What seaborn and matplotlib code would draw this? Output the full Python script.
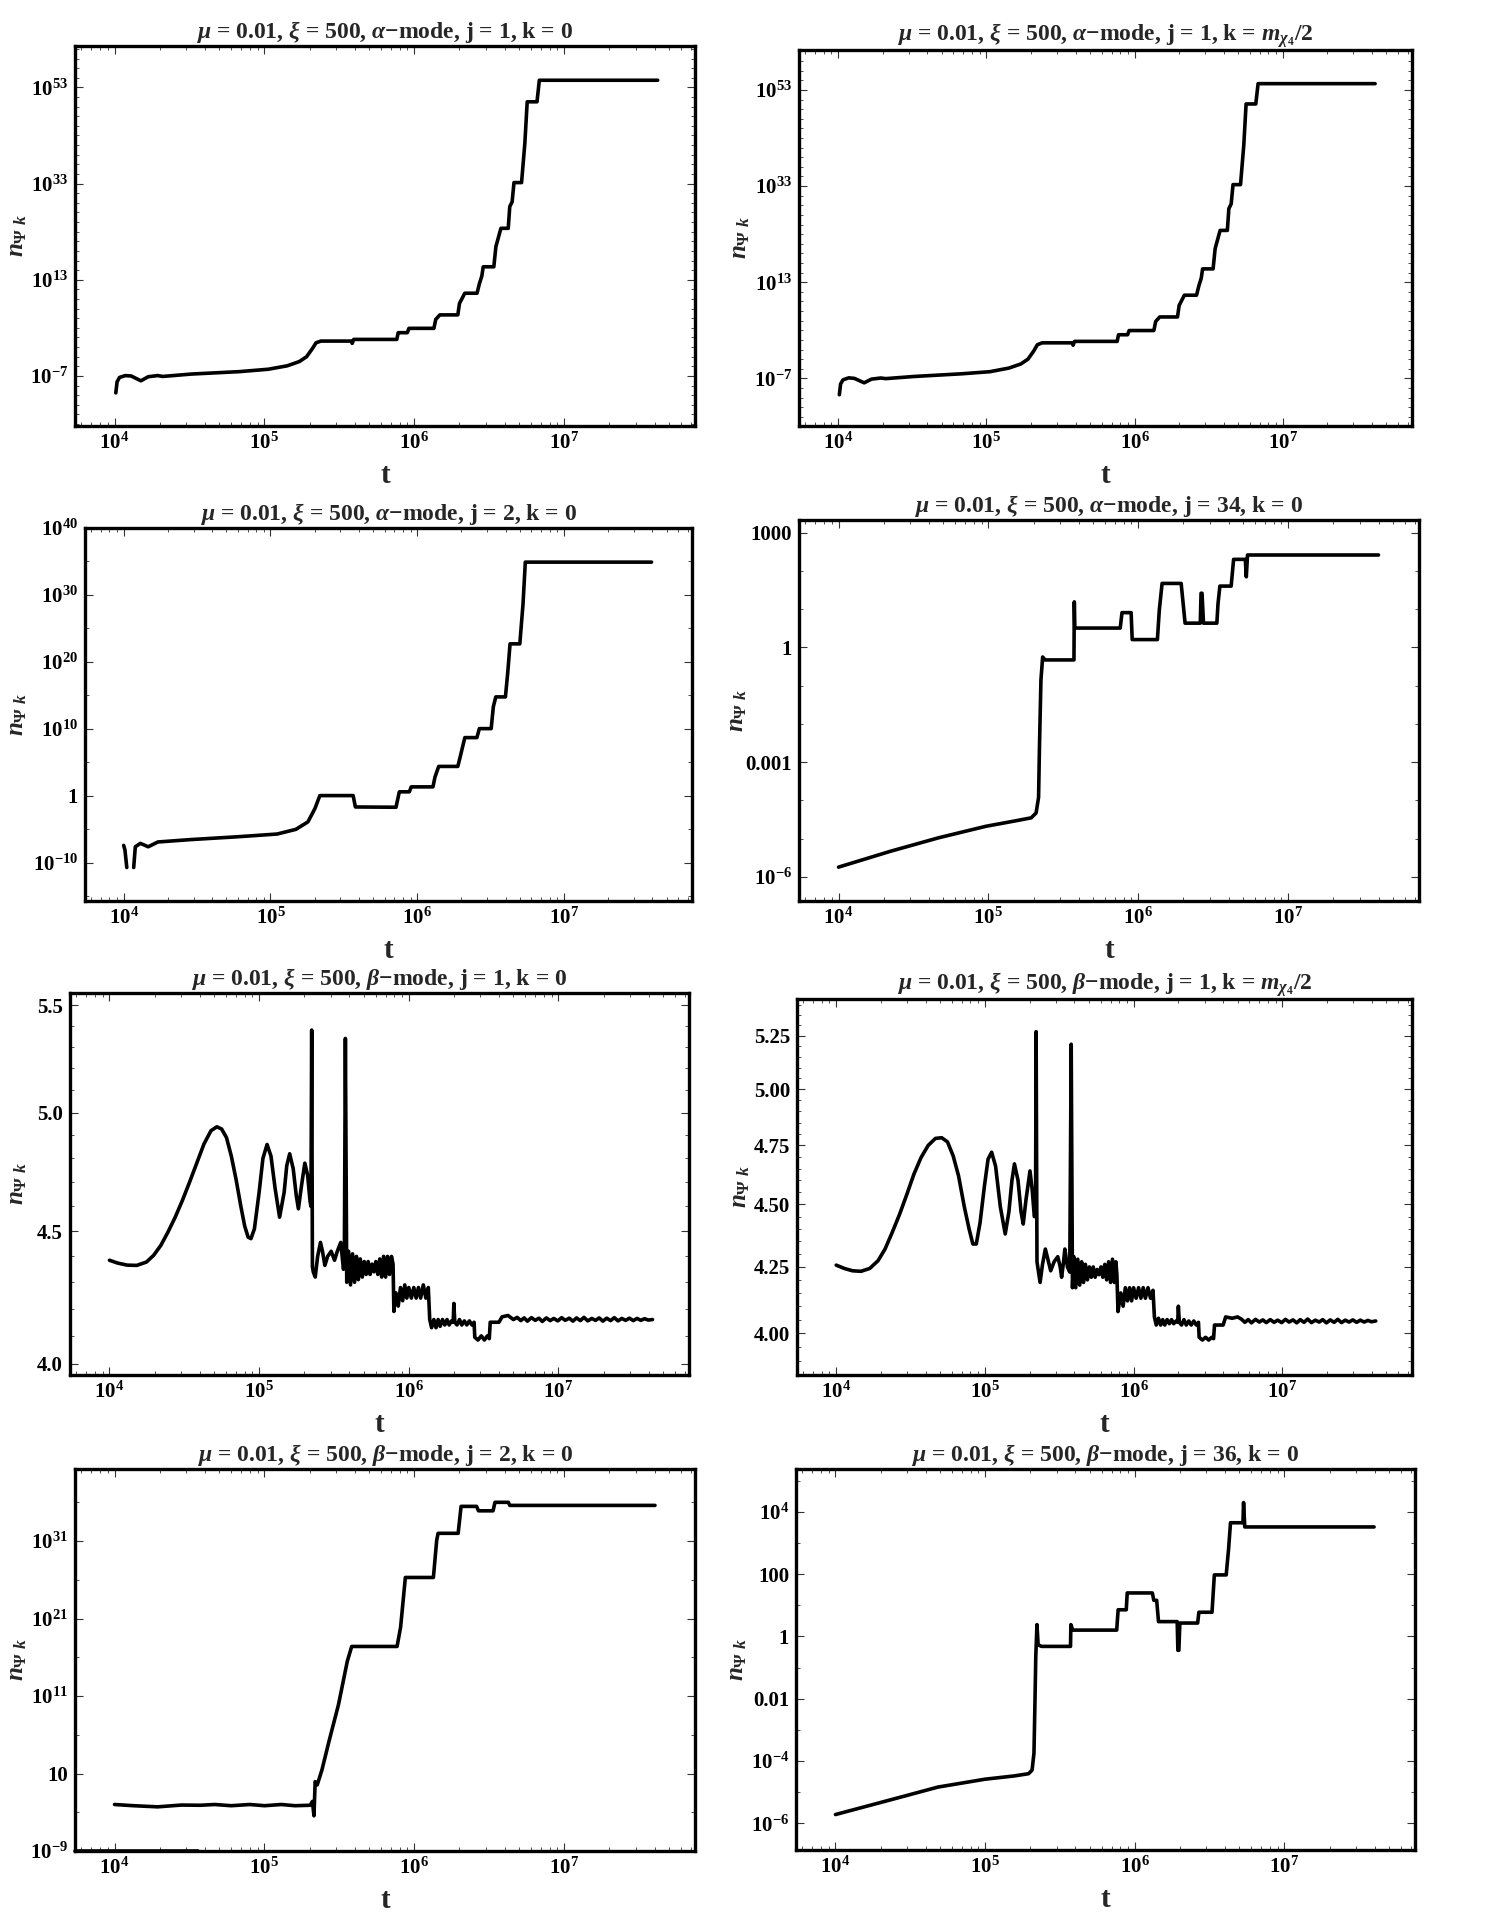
import matplotlib
matplotlib.use("Agg")
import matplotlib.pyplot as plt
import seaborn as sns
import pandas as pd
import numpy as np
from matplotlib.ticker import (FixedLocator, FixedFormatter, LogLocator,
                               LogFormatterMathtext, NullFormatter)

# ---- alpha-mode, j = 1, k = 0
a1_t = [1.02e4, 1.04e4, 1.08e4, 1.18e4, 1.29e4, 1.50e4, 1.68e4, 1.94e4, 2.1e4, 3.25e4,
        6.8e4, 1.06e5, 1.42e5, 1.71e5, 1.91e5, 2.09e5, 2.21e5, 2.38e5, 3.79e5, 3.85e5,
        3.94e5, 7.64e5, 7.8e5, 8.98e5, 9.2e5, 1.35e6, 1.39e6, 1.48e6, 1.95e6, 2.0e6,
        2.17e6, 2.62e6, 2.72e6, 2.82e6, 2.88e6, 3.39e6, 3.5e6, 3.78e6, 4.23e6, 4.33e6,
        4.49e6, 4.62e6, 5.19e6, 5.46e6, 5.66e6, 6.58e6, 6.82e6, 4.2e7]
a1_n = [3e-11, 6e-9, 5e-8, 1.2e-7, 1e-7, 1e-8, 7e-8, 1.2e-7, 8e-8, 2.5e-7,
        8e-7, 2.5e-6, 1.3e-5, 1e-4, 1e-3, 5e-2, 0.8, 1.8, 1.8, 0.6,
        4, 4, 100, 100, 800, 800, 6e4, 5e5, 5e5, 1.2e8,
        1.6e10, 1.6e10, 1.8e12, 6e13, 5e15, 5e15, 8e19, 5e23, 5e23, 1.6e28,
        1.6e29, 1.6e33, 1.6e33, 2.5e41, 1e50, 1e50, 3e54, 3e54]

# ---- alpha-mode, j = 1, k = m/2
a1h_t = [1.02e4, 1.04e4, 1.08e4, 1.18e4, 1.29e4, 1.50e4, 1.68e4, 1.94e4, 2.1e4, 3.25e4,
         6.8e4, 1.06e5, 1.42e5, 1.71e5, 1.91e5, 2.09e5, 2.21e5, 2.38e5, 3.79e5, 3.85e5,
         3.94e5, 7.64e5, 7.8e5, 8.98e5, 9.2e5, 1.35e6, 1.39e6, 1.48e6, 1.95e6, 2.0e6,
         2.17e6, 2.62e6, 2.72e6, 2.82e6, 2.88e6, 3.39e6, 3.5e6, 3.78e6, 4.23e6, 4.33e6,
         4.49e6, 4.62e6, 5.19e6, 5.46e6, 5.66e6, 6.58e6, 6.82e6, 4.2e7]
a1h_n = [4e-11, 7e-9, 5e-8, 1.3e-7, 1e-7, 1.2e-8, 7e-8, 1.2e-7, 9e-8, 2.5e-7,
         9e-7, 2.5e-6, 1.4e-5, 1e-4, 1e-3, 5e-2, 1.0, 2.5, 2.5, 0.8,
         5, 5, 120, 120, 900, 900, 7e4, 6e5, 6e5, 1.5e8,
         2e10, 2e10, 2e12, 7e13, 6e15, 6e15, 1e20, 6e23, 6e23, 2e28,
         2e29, 2e33, 2e33, 3e41, 1.2e50, 1.2e50, 2e54, 2e54]

# ---- alpha-mode, j = 2, k = 0 (seg splits the dip that drops out of range)
a2_t = [1.0e4, 1.02e4, 1.05e4, 1.17e4, 1.2e4, 1.3e4, 1.47e4, 1.71e4, 2.89e4, 6.09e4,
        1.11e5, 1.49e5, 1.80e5, 2.01e5, 2.17e5, 3.66e5, 3.79e5, 7.17e5, 7.55e5, 8.83e5,
        9.1e5, 1.28e6, 1.32e6, 1.40e6, 1.89e6, 1.96e6, 2.11e6, 2.55e6, 2.65e6, 3.19e6,
        3.3e6, 3.43e6, 3.99e6, 4.14e6, 4.29e6, 5.0e6, 5.26e6, 5.45e6, 3.95e7]
a2_n = [4e-8, 8e-9, 2e-11, 2e-11, 2.5e-8, 8e-8, 2.5e-8, 1.3e-7, 3e-7, 8e-7,
        2e-6, 1e-5, 1.3e-4, 1.3e-2, 1.1, 1.1, 0.022, 0.02, 4, 4,
        22, 22, 600, 2.5e4, 2.5e4, 6e5, 5e8, 5e8, 1.1e10, 1.1e10,
        2e13, 6e14, 6e14, 3e18, 5e22, 5e22, 5e28, 8e34, 8e34]
a2_seg = [0, 0, 0] + [1] * 36

# ---- alpha-mode, j = 34, k = 0
a34_t = [1.0e4, 2.23e4, 4.64e4, 9.6e4, 1.5e5, 1.93e5, 2.08e5, 2.16e5, 2.19e5, 2.24e5,
         2.3e5, 2.39e5, 3.72e5, 3.74e5, 3.77e5, 3.85e5, 7.57e5, 7.78e5, 8.95e5, 9.1e5,
         1.34e6, 1.38e6, 1.44e6, 1.93e6, 1.99e6, 2.05e6, 2.59e6, 2.62e6, 2.66e6, 2.72e6,
         3.34e6, 3.4e6, 3.5e6, 4.16e6, 4.32e6, 5.17e6, 5.25e6, 5.35e6, 4.0e7]
a34_n = [1.8e-6, 4.7e-6, 1.05e-5, 2.1e-5, 2.9e-5, 3.5e-5, 4.7e-5, 1.2e-4, 2.5e-3, 0.14,
         0.56, 0.47, 0.47, 15.5, 3.2, 3.2, 3.2, 8.1, 8.1, 1.6,
         1.6, 9.5, 47, 47, 14, 4.3, 4.3, 26, 26, 4.3,
         4.3, 14, 40, 40, 200, 200, 70, 260, 260]

# ---- beta-mode, j = 1, k = 0 (built from sections)
b1_t_wave = [1.0e4, 1.134e4, 1.314e4, 1.523e4, 1.766e4, 1.972e4, 2.203e4, 2.46e4, 2.75e4, 3.07e4,
             3.43e4, 3.83e4, 4.28e4, 4.77e4, 5.22e4, 5.62e4, 6.05e4, 6.52e4, 7.02e4, 7.55e4,
             8.01e4, 8.44e4, 8.82e4, 9.3e4, 1.0e5, 1.06e5, 1.13e5, 1.20e5, 1.28e5, 1.37e5,
             1.47e5, 1.53e5, 1.60e5, 1.69e5, 1.77e5, 1.83e5, 1.92e5, 2.02e5, 2.11e5, 2.19e5,
             2.22e5, 2.245e5, 2.27e5]
b1_n_wave = [4.385, 4.374, 4.366, 4.365, 4.378, 4.404, 4.443, 4.496, 4.556, 4.624,
             4.70, 4.78, 4.862, 4.92, 4.937, 4.927, 4.89, 4.81, 4.71, 4.60,
             4.52, 4.476, 4.47, 4.509, 4.658, 4.80, 4.86, 4.81, 4.672, 4.556,
             4.658, 4.77, 4.82, 4.756, 4.645, 4.59, 4.686, 4.78, 4.728, 4.62,
             4.60, 5.38, 4.36]
b1_t_ring = [2.30e5, 2.37e5, 2.46e5, 2.57e5, 2.65e5, 2.75e5, 2.87e5, 3.03e5, 3.19e5, 3.33e5,
             3.51e5, 3.66e5, 3.71e5, 3.77e5, 3.85e5]
b1_n_ring = [4.34, 4.32, 4.40, 4.455, 4.42, 4.365, 4.40, 4.42, 4.385, 4.42,
             4.455, 4.35, 4.38, 5.34, 4.30]
b1_t_band = [3.96e5, 4.08e5, 4.21e5, 4.34e5, 4.47e5, 4.60e5, 4.74e5, 4.89e5, 5.04e5, 5.19e5,
             5.35e5, 5.51e5, 5.68e5, 5.85e5, 6.03e5, 6.21e5, 6.40e5, 6.59e5, 6.79e5, 7.0e5,
             7.21e5, 7.43e5, 7.66e5, 7.85e5,
             7.95e5, 8.2e5, 8.5e5, 8.8e5, 9.1e5, 9.4e5, 9.7e5, 1.0e6, 1.04e6, 1.08e6,
             1.12e6, 1.16e6, 1.2e6, 1.25e6, 1.3e6, 1.35e6]
b1_n_band = [4.42, 4.29, 4.41, 4.30, 4.40, 4.31, 4.39, 4.32, 4.38, 4.33,
             4.38, 4.33, 4.37, 4.34, 4.38, 4.33, 4.39, 4.32, 4.40, 4.32,
             4.40, 4.33, 4.40, 4.37,
             4.19, 4.26, 4.21, 4.28, 4.23, 4.29, 4.24, 4.28, 4.24, 4.28,
             4.24, 4.28, 4.24, 4.29, 4.24, 4.28]
b1_t_tail = [1.38e6, 1.42e6, 1.47e6, 1.52e6, 1.57e6, 1.62e6, 1.68e6, 1.74e6, 1.8e6, 1.86e6,
             1.93e6, 1.98e6, 2.0e6, 2.03e6, 2.1e6, 2.18e6, 2.26e6, 2.35e6, 2.44e6, 2.54e6,
             2.64e6, 2.73e6, 2.76e6, 2.9e6, 3.05e6, 3.2e6, 3.35e6, 3.45e6, 3.5e6, 4.0e6,
             4.2e6, 4.6e6, 5.0e6]
b1_n_tail = [4.16, 4.13, 4.16, 4.13, 4.16, 4.135, 4.16, 4.14, 4.16, 4.14,
             4.155, 4.15, 4.22, 4.15, 4.14, 4.16, 4.14, 4.155, 4.14, 4.155,
             4.14, 4.15, 4.095, 4.085, 4.10, 4.085, 4.10, 4.09, 4.15, 4.15,
             4.17, 4.175, 4.16]

# late-time jitter, shared time grid for both beta j = 1 panels
tail_t = [5.3e6, 5.6e6, 5.9e6, 6.2e6, 6.6e6, 7.0e6, 7.4e6, 7.8e6, 8.3e6, 8.8e6,
          9.3e6, 9.9e6, 1.05e7, 1.11e7, 1.18e7, 1.25e7, 1.32e7, 1.4e7, 1.48e7, 1.57e7,
          1.67e7, 1.77e7, 1.87e7, 1.98e7, 2.1e7, 2.23e7, 2.36e7, 2.5e7, 2.65e7, 2.81e7,
          2.98e7, 3.16e7, 3.35e7, 3.55e7, 3.76e7, 3.98e7, 4.25e7]
b1_n_noise = [4.168, 4.156, 4.166, 4.154, 4.167, 4.157, 4.165, 4.153, 4.166, 4.156,
              4.164, 4.155, 4.167, 4.157, 4.165, 4.154, 4.166, 4.156, 4.168, 4.155,
              4.164, 4.157, 4.166, 4.154, 4.165, 4.156, 4.167, 4.155, 4.164, 4.157,
              4.165, 4.156, 4.164, 4.157, 4.163, 4.158, 4.16]

# ---- beta-mode, j = 1, k = m/2 (built from sections)
b1h_t_wave = [1.0e4, 1.134e4, 1.287e4, 1.47e4, 1.68e4, 1.91e4, 2.13e4, 2.38e4, 2.67e4, 2.98e4,
              3.33e4, 3.72e4, 4.16e4, 4.65e4, 5.12e4, 5.6e4, 6.12e4, 6.65e4, 7.27e4, 7.83e4,
              8.3e4, 8.75e4, 9.28e4, 9.93e4, 1.05e5, 1.11e5, 1.18e5, 1.27e5, 1.37e5, 1.45e5,
              1.52e5, 1.58e5, 1.67e5, 1.75e5, 1.81e5, 1.89e5, 2.01e5, 2.08e5, 2.15e5, 2.19e5,
              2.21e5, 2.24e5]
b1h_n_wave = [4.257, 4.244, 4.235, 4.233, 4.244, 4.274, 4.32, 4.386, 4.46, 4.54,
              4.626, 4.697, 4.75, 4.78, 4.783, 4.765, 4.704, 4.619, 4.49, 4.40,
              4.34, 4.34, 4.426, 4.577, 4.69, 4.72, 4.66, 4.49, 4.38, 4.47,
              4.60, 4.67, 4.60, 4.47, 4.42, 4.52, 4.64, 4.56, 4.45, 4.46,
              5.27, 4.27]
b1h_t_ring = [2.35e5, 2.44e5, 2.55e5, 2.65e5, 2.77e5, 2.92e5, 3.09e5, 3.21e5, 3.28e5, 3.38e5,
              3.45e5, 3.59e5, 3.72e5, 3.805e5, 3.88e5]
b1h_n_ring = [4.19, 4.26, 4.32, 4.28, 4.235, 4.27, 4.29, 4.25, 4.21, 4.27,
              4.32, 4.25, 4.23, 5.21, 4.17]
b1h_t_band = [3.96e5, 4.08e5, 4.21e5, 4.34e5, 4.47e5, 4.60e5, 4.74e5, 4.89e5, 5.04e5, 5.19e5,
              5.35e5, 5.51e5, 5.68e5, 5.85e5, 6.03e5, 6.21e5, 6.40e5, 6.59e5, 6.79e5, 7.0e5,
              7.21e5, 7.43e5, 7.6e5, 7.72e5,
              7.85e5, 8.2e5, 8.5e5, 8.8e5, 9.1e5, 9.4e5, 9.7e5, 1.0e6, 1.04e6, 1.08e6,
              1.12e6, 1.16e6, 1.2e6, 1.25e6, 1.3e6, 1.35e6]
b1h_n_band = [4.29, 4.17, 4.28, 4.18, 4.27, 4.19, 4.26, 4.20, 4.25, 4.21,
              4.25, 4.21, 4.24, 4.22, 4.25, 4.21, 4.26, 4.20, 4.27, 4.19,
              4.28, 4.19, 4.27, 4.22,
              4.08, 4.15, 4.10, 4.17, 4.12, 4.17, 4.12, 4.17, 4.13, 4.17,
              4.13, 4.17, 4.13, 4.17, 4.13, 4.16]
b1h_t_tail = [1.38e6, 1.42e6, 1.47e6, 1.52e6, 1.57e6, 1.62e6, 1.68e6, 1.74e6, 1.8e6, 1.86e6,
              1.93e6, 1.98e6, 2.0e6, 2.03e6, 2.1e6, 2.18e6, 2.26e6, 2.35e6, 2.44e6, 2.54e6,
              2.64e6, 2.73e6, 2.76e6, 2.9e6, 3.05e6, 3.2e6, 3.35e6, 3.45e6, 3.5e6, 4.0e6,
              4.16e6, 4.6e6, 5.0e6]
b1h_n_tail = [4.06, 4.03, 4.055, 4.03, 4.05, 4.03, 4.05, 4.035, 4.05, 4.035,
              4.045, 4.04, 4.10, 4.04, 4.03, 4.05, 4.03, 4.045, 4.03, 4.045,
              4.03, 4.04, 3.985, 3.975, 3.985, 3.975, 3.985, 3.98, 4.03, 4.03,
              4.06, 4.055, 4.06]
b1h_n_noise = [4.052, 4.040, 4.050, 4.038, 4.051, 4.041, 4.049, 4.039, 4.050, 4.040,
               4.048, 4.039, 4.051, 4.041, 4.049, 4.038, 4.050, 4.040, 4.052, 4.039,
               4.048, 4.041, 4.050, 4.038, 4.049, 4.040, 4.051, 4.039, 4.048, 4.041,
               4.049, 4.040, 4.048, 4.041, 4.047, 4.042, 4.045]

b1_t = b1_t_wave + b1_t_ring + b1_t_band + b1_t_tail + tail_t
b1_n = b1_n_wave + b1_n_ring + b1_n_band + b1_n_tail + b1_n_noise
b1h_t = b1h_t_wave + b1h_t_ring + b1h_t_band + b1h_t_tail + tail_t
b1h_n = b1h_n_wave + b1h_n_ring + b1h_n_band + b1h_n_tail + b1h_n_noise

# ---- beta-mode, j = 2, k = 0
b2_t = [1.0e4, 1.34e4, 1.94e4, 2.79e4, 3.74e4, 4.66e4, 6.0e4, 8.0e4, 1.0e5, 1.3e5,
        1.6e5, 2.02e5, 2.09e5, 2.14e5, 2.18e5, 2.25e5, 2.42e5, 2.7e5, 3.12e5, 3.57e5,
        3.82e5, 7.67e5, 8.1e5, 8.71e5, 1.34e6, 1.41e6, 1.44e6, 1.96e6, 2.05e6, 2.6e6,
        2.68e6, 3.35e6, 3.45e6, 4.24e6, 4.33e6, 4.03e7]
b2_n = [1e-3, 7e-4, 5e-4, 8.5e-4, 8e-4, 1e-3, 7e-4, 1e-3, 7e-4, 1e-3,
        7e-4, 8e-4, 2.5e-3, 3.5e-5, 0.9, 0.34, 30, 1.6e5, 8e9, 3e15,
        2.5e17, 2.5e17, 8e19, 2e26, 2e26, 1.3e31, 1e32, 1e32, 3e35, 3e35,
        8e34, 8e34, 1e36, 1e36, 4e35, 4e35]
# stray trace lying on the lower frame
b2_edge_t = [5.45e3, 3.6e4]
b2_edge_n = [1e-9, 1e-9]

# ---- beta-mode, j = 36, k = 0
b36_t = [1.0e4, 2.32e4, 4.84e4, 1.0e5, 1.56e5, 1.95e5, 2.06e5, 2.12e5, 2.15e5, 2.18e5,
         2.22e5, 2.26e5, 2.38e5, 3.72e5, 3.74e5, 3.85e5, 7.57e5, 7.74e5, 8.77e5, 8.9e5,
         1.31e6, 1.34e6, 1.4e6, 1.44e6, 1.92e6, 1.94e6, 1.97e6, 2.0e6, 2.63e6, 2.68e6,
         3.28e6, 3.40e6, 4.08e6, 4.23e6, 4.36e6, 5.28e6, 5.33e6, 5.43e6, 3.97e7]
b36_n = [1.9e-6, 5.6e-6, 1.45e-5, 2.6e-5, 3.3e-5, 3.9e-5, 5.1e-5, 1.8e-4, 5.6e-3, 0.23,
         2.4, 0.54, 0.48, 0.48, 2.4, 1.6, 1.6, 7.2, 7.2, 25,
         25, 14.5, 14.5, 3, 3, 0.36, 0.36, 2.7, 2.7, 6,
         6, 95, 95, 620, 4500, 4500, 2e4, 3300, 3300]

titles = [
    r"$\mu$ = 0.01, $\xi$ = 500, $\alpha$−mode, j = 1, k = 0",
    r"$\mu$ = 0.01, $\xi$ = 500, $\alpha$−mode, j = 1, k = $m_{\chi_4}$/2",
    r"$\mu$ = 0.01, $\xi$ = 500, $\alpha$−mode, j = 2, k = 0",
    r"$\mu$ = 0.01, $\xi$ = 500, $\alpha$−mode, j = 34, k = 0",
    r"$\mu$ = 0.01, $\xi$ = 500, $\beta$−mode, j = 1, k = 0",
    r"$\mu$ = 0.01, $\xi$ = 500, $\beta$−mode, j = 1, k = $m_{\chi_4}$/2",
    r"$\mu$ = 0.01, $\xi$ = 500, $\beta$−mode, j = 2, k = 0",
    r"$\mu$ = 0.01, $\xi$ = 500, $\beta$−mode, j = 36, k = 0",
]

# y tick values and labels per panel
yt_a1 = [1e-7, 1e13, 1e33, 1e53]
yl_a1 = [r"$10^{-7}$", r"$10^{13}$", r"$10^{33}$", r"$10^{53}$"]
yt_a2 = [1e-10, 1, 1e10, 1e20, 1e30, 1e40]
yl_a2 = [r"$10^{-10}$", "1", r"$10^{10}$", r"$10^{20}$", r"$10^{30}$", r"$10^{40}$"]
yt_a34 = [1e-6, 1e-3, 1, 1e3]
yl_a34 = [r"$10^{-6}$", "0.001", "1", "1000"]
yt_b1 = [4.0, 4.5, 5.0, 5.5]
yl_b1 = ["4.0", "4.5", "5.0", "5.5"]
yt_b1h = [4.0, 4.25, 4.5, 4.75, 5.0, 5.25]
yl_b1h = ["4.00", "4.25", "4.50", "4.75", "5.00", "5.25"]
yt_b2 = [1e-9, 10, 1e11, 1e21, 1e31]
yl_b2 = [r"$10^{-9}$", "10", r"$10^{11}$", r"$10^{21}$", r"$10^{31}$"]
yt_b36 = [1e-6, 1e-4, 1e-2, 1, 100, 1e4]
yl_b36 = [r"$10^{-6}$", r"$10^{-4}$", "0.01", "1", "100", r"$10^{4}$"]

sns.set_theme(style="ticks")
plt.rcParams["font.family"] = ["Liberation Serif", "DejaVu Serif"]
plt.rcParams["font.weight"] = "bold"
plt.rcParams["mathtext.fontset"] = "custom"
plt.rcParams["mathtext.rm"] = "Liberation Serif:bold"
plt.rcParams["mathtext.it"] = "Liberation Serif:bold:italic"
plt.rcParams["mathtext.bf"] = "Liberation Serif:bold"
plt.rcParams["axes.unicode_minus"] = True

W, H = 1494, 1920
fig = plt.figure(figsize=(W / 100, H / 100), dpi=100)


def make_ax(l, t, r, b):
    return fig.add_axes([l / W, 1 - b / H, (r - l) / W, (b - t) / H])


def draw(ax, t, n, title, ylim, yt, yl, yminor, ylab_px, seg=None):
    ax.set_xscale("log")
    ax.set_yscale("log")
    df = pd.DataFrame({"t": t, "n": n, "seg": seg if seg is not None else [0] * len(t)})
    sns.lineplot(data=df, x="t", y="n", units="seg", estimator=None, sort=False,
                 color="black", lw=2.6, ax=ax, legend=False)
    ax.set_xlim(5.45e3, 7.45e7)
    ax.set_ylim(*ylim)
    ax.xaxis.set_major_locator(LogLocator(base=10, numticks=10))
    ax.xaxis.set_major_formatter(LogFormatterMathtext())
    ax.xaxis.set_minor_locator(LogLocator(base=10, subs=np.arange(2, 10), numticks=20))
    ax.xaxis.set_minor_formatter(NullFormatter())
    ax.yaxis.set_major_locator(FixedLocator(yt))
    ax.yaxis.set_major_formatter(FixedFormatter(yl))
    ax.yaxis.set_minor_locator(FixedLocator(yminor))
    ax.yaxis.set_minor_formatter(NullFormatter())
    ax.tick_params(which="both", direction="in", top=True, right=True,
                   labelsize=15, colors="#333333", labelcolor="black", pad=5)
    ax.tick_params(which="major", length=6, width=0.8)
    ax.tick_params(which="minor", length=3, width=0.6)
    for s in ax.spines.values():
        s.set_linewidth(2.4)
        s.set_color("black")
    ax.set_title(title, fontsize=17, fontweight="bold", pad=6)
    ax.set_xlabel("t", fontsize=21, fontweight="bold", labelpad=6)
    ax.set_ylabel(r"$n_{\Psi\ k}$", fontsize=18)
    pos = ax.get_position()
    xfrac = (ylab_px / W - pos.x0) / pos.width
    ax.yaxis.set_label_coords(xfrac, 0.5)


boxes = [(75, 46, 695, 426), (799, 50, 1412, 426),
         (85, 528, 692, 901), (799, 520, 1419, 901),
         (70, 993, 689, 1375), (797, 999, 1412, 1375),
         (75, 1469, 695, 1851), (796, 1469, 1415, 1850)]
ylab_x = [29, 752, 29, 749, 29, 752, 29, 749]

axes = [make_ax(*b) for b in boxes]

draw(axes[0], a1_t, a1_n, titles[0], (10 ** -17.4, 10 ** 61.6), yt_a1, yl_a1,
     10.0 ** np.arange(-17, 62, 2), ylab_x[0])
draw(axes[1], a1h_t, a1h_n, titles[1], (10 ** -16.9, 10 ** 61.3), yt_a1, yl_a1,
     10.0 ** np.arange(-17, 62, 2), ylab_x[1])
draw(axes[2], a2_t, a2_n, titles[2], (10 ** -15.7, 1e40), yt_a2, yl_a2,
     10.0 ** np.arange(-15, 41, 5), ylab_x[2], seg=a2_seg)
draw(axes[3], a34_t, a34_n, titles[3], (10 ** -6.63, 10 ** 3.33), yt_a34, yl_a34,
     10.0 ** np.arange(-6, 4, 1), ylab_x[3])
draw(axes[4], b1_t, b1_n, titles[4], (3.96, 5.56), yt_b1, yl_b1,
     np.arange(4.0, 5.55, 0.1), ylab_x[4])
draw(axes[5], b1h_t, b1h_n, titles[5], (3.85, 5.43), yt_b1h, yl_b1h,
     np.arange(3.85, 5.43, 0.05), ylab_x[5])
draw(axes[6], b2_t, b2_n, titles[6], (1e-9, 10 ** 40.3), yt_b2, yl_b2,
     10.0 ** np.arange(-9, 41, 5), ylab_x[6])
sns.lineplot(x=b2_edge_t, y=b2_edge_n, color="black", lw=2.6, ax=axes[6],
             clip_on=False, estimator=None, sort=False)
draw(axes[7], b36_t, b36_n, titles[7], (10 ** -6.86, 10 ** 5.38), yt_b36, yl_b36,
     10.0 ** np.arange(-6, 6, 1), ylab_x[7])

fig.savefig("out.png", dpi=100)
